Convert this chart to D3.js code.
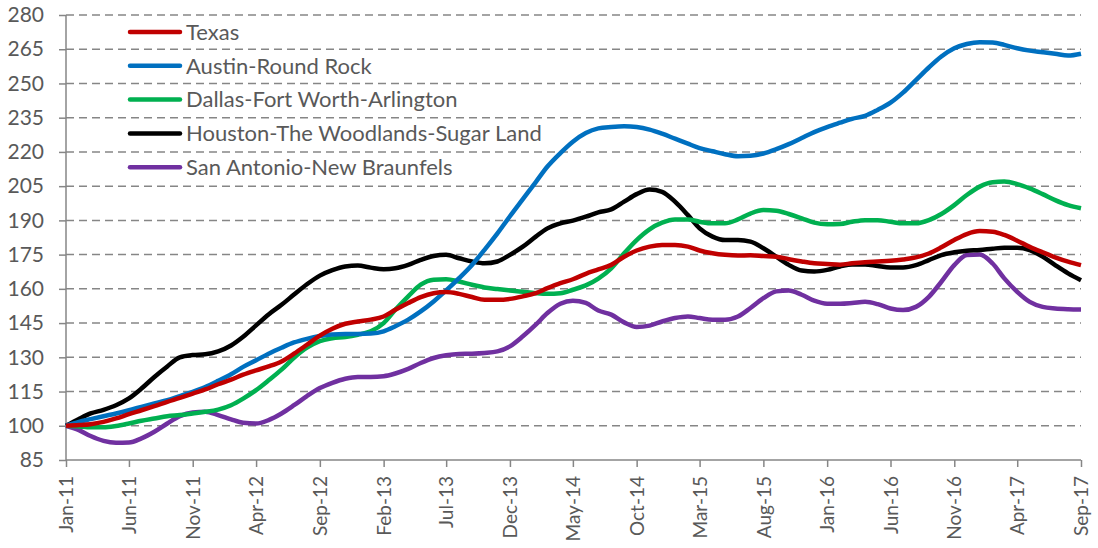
<!DOCTYPE html>
<html>
<head>
<meta charset="utf-8">
<script src="https://d3js.org/d3.v7.min.js"></script>
<style>
  body { margin: 0; background: #fff; }
  text { font-family: Lato, "Open Sans", sans-serif; fill: #595959; }
  .grid line { stroke: #868686; stroke-width: 1.5; stroke-dasharray: 8,5; }
  .axis path, .axis line { stroke: #868686; stroke-width: 1.5; }
</style>
</head>
<body>
<svg width="1098" height="548"></svg>
<script>
var months = ["Jan","Feb","Mar","Apr","May","Jun","Jul","Aug","Sep","Oct","Nov","Dec"];

// monthly index values, Jan-11 .. Sep-17 (Jan-11 = 100)
var texas = [100,100.3,100.7,101.7,103.2,105.1,106.8,108.6,110.5,112.2,
  114.1,115.9,118.2,120.2,122.4,124.3,126,128.2,131.6,135.5,
  139.5,142.5,144.7,145.7,146.5,147.9,150.8,153.8,156.4,158.1,
  158.6,157.8,156.4,155.2,155.2,155.6,156.7,158.1,160.3,162.5,
  164.2,166.6,168.5,170.5,174.1,176.8,178.5,179.2,179.2,178.5,
  176.8,175.6,174.9,174.6,174.7,174.4,174.1,173,172,171.2,
  170.9,170.6,171.2,171.7,172,172.3,172.9,173.8,175.5,178.2,
  181.4,184,185.3,185,183.6,181.1,178.4,176,173.8,171.9,
  170.4];

var austin = [100,101.7,102.9,104.2,105.4,106.8,108.3,109.8,111.2,113,
  114.9,117,119.7,122.6,125.8,128.7,131.6,134.2,136.5,138.1,
  139.3,140,140.2,140.2,140.4,141.4,143.6,146.5,150.1,154.5,
  159.3,164.7,170.5,177.1,184.3,191.8,199.3,206.8,213.6,219.5,
  224.5,228.3,230.3,230.9,231.2,230.9,229.8,228,225.8,223.6,
  221.7,220.3,219,218.1,218.3,219.3,221.2,223.4,226.1,228.7,
  230.9,232.8,234.5,235.8,238.4,241.6,246,251.5,257,261.8,
  265.4,267.3,268.1,267.9,266.9,265.4,264.4,263.7,263,262.2,
  263];

var dallas = [100,99.7,99.3,99.3,99.9,101,102.2,103.2,104.2,104.7,
  105.4,106.1,107.1,109,111.9,115.6,119.9,124.6,129.8,134.2,
  137.1,138.3,138.9,139.9,141.4,145,150.8,156.7,161.8,164,
  164.2,163.2,161.8,160.6,159.9,159.3,158.7,158.1,157.8,158.1,
  159.6,161.5,164.5,169,175.6,181.4,186.1,189,190.4,190.4,
  189.4,188.7,188.7,190.4,193,194.5,194.2,192.8,190.9,189,
  188.3,188.4,189.4,190.1,190.1,189.4,188.7,188.7,190.1,192.8,
  196.7,201.1,204.8,206.7,207,205.9,204,201.5,198.9,196.7,
  195.3];

var houston = [100,103,105.4,107,109,112,116.3,121.4,126,130,
  131,131.3,132.6,135.2,139,144,148.8,153,157.5,162,
  165.8,168.2,169.8,170.2,169.3,168.6,169,170.5,172.7,174.4,
  174.9,173.4,172,171.2,172,174.9,178.5,182.9,186.5,188.7,
  189.9,191.6,193.5,194.8,198.2,201.5,203.5,202.5,198.2,192.3,
  186.5,182.9,181.4,181.4,180.7,177.8,174.1,170.5,168,167.6,
  168.3,169.8,170.7,170.7,170,169.4,169.4,170.4,172.6,174.8,
  176,176.7,177,177.6,178,178,177,174.1,170.4,166.8,
  163.8];

var sanAntonio = [100,98.1,95.5,93.4,92.6,92.7,94.5,97.4,101,104.2,
  105.8,106.1,104.7,102.8,101.3,101,102.5,105.4,109,113,
  116.5,118.8,120.6,121.4,121.4,121.7,122.9,124.9,127.5,129.7,
  130.9,131.5,131.6,131.9,132.6,134.8,139.2,144.3,149.4,153.5,
  154.8,153.8,150.5,148.7,145.3,143.3,143.9,145.7,147.2,147.9,
  147.2,146.5,146.5,147.9,151.6,155.9,158.9,159.3,157.4,154.8,
  153.5,153.5,153.8,154.3,153.3,151.4,150.7,152.1,156.5,163.1,
  170.4,174.8,175.1,171.1,164.6,158.7,154.3,152.1,151.4,151.1,
  151];

var seriesNames = ["Texas", "Austin-Round Rock", "Dallas-Fort Worth-Arlington",
  "Houston-The Woodlands-Sugar Land", "San Antonio-New Braunfels"];
var seriesColors = ["#C00000", "#0070C0", "#00B050", "#000000", "#7030A0"];
var seriesValues = [texas, austin, dallas, houston, sanAntonio];

var yTicks = d3.range(85, 281, 15);

var dates = texas.map(function(d, i) { return new Date(2011, i, 1); });

var svg = d3.select("svg"),
    margin = {top: 15, right: 17, bottom: 88, left: 66},
    width = +svg.attr("width") - margin.left - margin.right,
    height = +svg.attr("height") - margin.top - margin.bottom;

var x = d3.scaleTime()
    .domain([dates[0], dates[dates.length - 1]])
    .range([0, width]);

var y = d3.scaleLinear()
    .domain([85, 280])
    .range([height, 0]);

var g = svg.append("g")
    .attr("transform", "translate(" + margin.left + "," + margin.top + ")");

// dashed gridlines
g.append("g")
    .attr("class", "grid")
  .selectAll("line")
  .data(yTicks.slice(1))
  .enter().append("line")
    .attr("x1", 0)
    .attr("x2", width)
    .attr("y1", function(d) { return y(d); })
    .attr("y2", function(d) { return y(d); });

var xTickDates = dates.filter(function(d, i) { return i % 5 == 0; });

var xAxis = d3.axisBottom(x)
    .tickValues(xTickDates)
    .tickSize(7)
    .tickFormat(function(d) {
      return months[d.getMonth()] + "-" + String(d.getFullYear()).slice(2);
    });

var yAxis = d3.axisLeft(y)
    .tickValues(yTicks)
    .tickSize(7)
    .tickPadding(15);

g.append("g")
    .attr("class", "axis x")
    .attr("transform", "translate(0," + height + ")")
    .call(xAxis)
  .selectAll("text")
    .attr("transform", "translate(0,16) rotate(-90)")
    .attr("text-anchor", "end")
    .attr("x", 0)
    .attr("y", 0)
    .attr("dx", 0)
    .attr("dy", "0.35em")
    .style("font-size", "19px");

g.append("g")
    .attr("class", "axis y")
    .call(yAxis)
  .selectAll("text")
    .style("font-size", "21px");

g.selectAll(".axis .domain")
    .attr("d", function() {
      return d3.select(this.parentNode).classed("x") ? "M0,0H" + width : "M0,0V" + height;
    });

var line = d3.line()
    .x(function(d, i) { return x(dates[i]); })
    .y(function(d) { return y(d); })
    .curve(d3.curveMonotoneX);

// draw in reverse so Texas sits on top
g.selectAll(".series")
  .data(d3.range(seriesValues.length).reverse())
  .enter().append("path")
    .attr("class", "series")
    .attr("fill", "none")
    .attr("stroke", function(k) { return seriesColors[k]; })
    .attr("stroke-width", 4.5)
    .attr("stroke-linejoin", "round")
    .attr("d", function(k) { return line(seriesValues[k]); });

// legend
var legend = g.append("g")
    .attr("transform", "translate(64,17)");

var item = legend.selectAll("g")
  .data(seriesNames)
  .enter().append("g")
    .attr("transform", function(d, i) { return "translate(0," + (i * 33.8) + ")"; });

item.append("line")
    .attr("x1", 0)
    .attr("x2", 50)
    .attr("stroke", function(d, i) { return seriesColors[i]; })
    .attr("stroke-width", 4.5)
    .attr("stroke-linecap", "round");

item.append("text")
    .attr("x", 56)
    .attr("dy", "0.35em")
    .style("font-size", "22px")
    .text(function(d) { return d; });
</script>
</body>
</html>
